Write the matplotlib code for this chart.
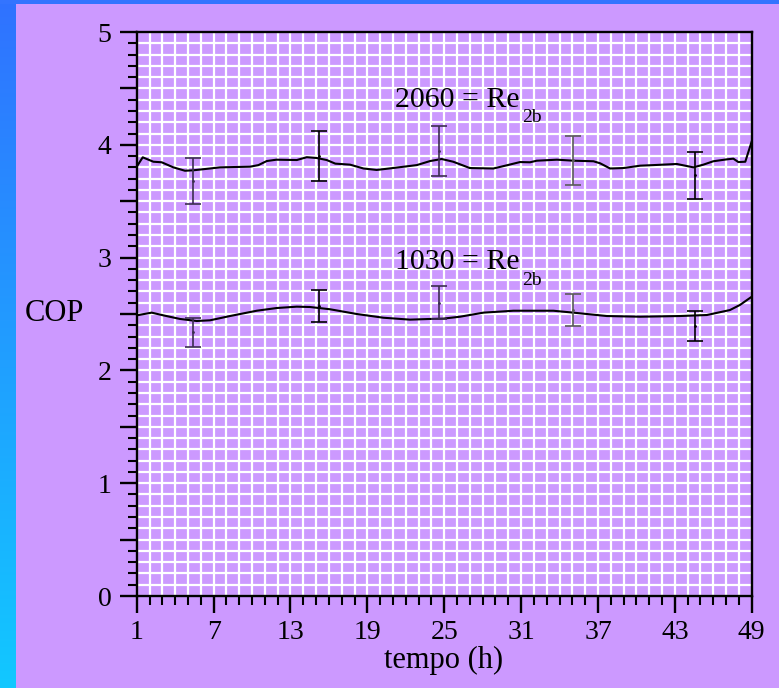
import numpy as np
import matplotlib
matplotlib.use("Agg")
import matplotlib.pyplot as plt
from matplotlib.ticker import MultipleLocator, FuncFormatter
from matplotlib.patches import Rectangle

plt.rcParams['font.family'] = ['Liberation Serif', 'DejaVu Serif']

# COP curves over time (h)
x_hi = [1, 1.47, 2.3, 2.95, 3.86, 4.77, 5.42, 6.72, 7.5, 9.85,
        10.5, 11.15, 11.9, 13.5, 14.27, 15.05, 15.83, 16.5, 17.65, 18.7,
        19.73, 21.0, 22.86, 23.9, 24.8, 25.7, 27.0, 28.84, 29.88, 30.92,
        31.7, 32.22, 33.8, 35.1, 36.65, 37.17, 37.95, 39.0, 40.3, 41.33,
        43.15, 44.45, 45.23, 46.0, 47.06, 47.57, 47.96, 48.5, 49]
y_hi = [3.806, 3.889, 3.85, 3.845, 3.80, 3.77, 3.774, 3.79, 3.80, 3.806,
        3.82, 3.856, 3.868, 3.865, 3.89, 3.883, 3.865, 3.833, 3.824, 3.79,
        3.777, 3.794, 3.82, 3.856, 3.874, 3.85, 3.794, 3.79, 3.818, 3.847,
        3.845, 3.859, 3.868, 3.859, 3.854, 3.836, 3.79, 3.794, 3.815, 3.82,
        3.83, 3.80, 3.824, 3.854, 3.871, 3.877, 3.847, 3.85, 4.03]

x_lo = [1, 2.17, 3.08, 4.38, 5.68, 6.72, 8.28, 10.37, 11.93, 13.49,
        14.53, 16.09, 18.17, 20.25, 22.33, 23.9, 24.93, 26.24, 28.06, 30.4,
        33.52, 35.08, 37.69, 40.29, 43.4, 45.5, 47.3, 48.08, 49]
y_lo = [2.488, 2.512, 2.488, 2.456, 2.438, 2.444, 2.482, 2.529, 2.553, 2.565,
        2.562, 2.542, 2.50, 2.467, 2.45, 2.456, 2.459, 2.476, 2.512, 2.529,
        2.529, 2.512, 2.482, 2.476, 2.482, 2.491, 2.535, 2.58, 2.653]

# measured points with error bars
err_x = [5.42, 15.23, 24.62, 35.03, 44.58]
hi_mean = [3.68, 3.90, 3.947, 3.862, 3.728]
hi_err = [0.207, 0.223, 0.224, 0.218, 0.211]
lo_mean = [2.337, 2.573, 2.60, 2.537, 2.395]
lo_err = [0.13, 0.144, 0.148, 0.143, 0.134]
bar_colors = ['#3b2d50', 'black', '#3b2d50', '#5a5a5a', 'black']

xticks = [1, 7, 13, 19, 25, 31, 37, 43, 49]

purple = '#cc99ff'

fig = plt.figure(figsize=(7.79, 6.88), dpi=100)
fig.patch.set_facecolor(purple)

# blue strips along the left and top edges
strip = fig.add_axes([0, 0, 15 / 779, 1])
grad = np.linspace(0, 1, 256).reshape(-1, 1)
top_c = np.array([0x30, 0x72, 0xff]) / 255
bot_c = np.array([0x12, 0xc8, 0xff]) / 255
img = top_c[None, None, :] * (1 - grad[..., None]) + bot_c[None, None, :] * grad[..., None]
strip.imshow(img, aspect='auto', extent=[0, 1, 0, 1])
strip.axis('off')
fig.patches.append(Rectangle((0, 1 - 4 / 688), 1, 4 / 688, transform=fig.transFigure,
                             facecolor='#3374ff', edgecolor='none', zorder=5))

ax = fig.add_axes([136.7 / 779, 92 / 688, 615 / 779, 564 / 688])
ax.set_facecolor(purple)

ax.plot(x_hi, y_hi, color='black', lw=1.5, zorder=3)
ax.plot(x_lo, y_lo, color='black', lw=1.5, zorder=3)

for i in range(len(err_x)):
    for m, e in ((hi_mean, hi_err), (lo_mean, lo_err)):
        ax.errorbar(err_x[i], m[i], yerr=e[i], fmt='.', ms=2, color=bar_colors[i],
                    ecolor=bar_colors[i], elinewidth=1.2, capsize=5.5, capthick=1.2, zorder=4)

ax.set_xlim(1, 49)
ax.set_ylim(0, 5)
ax.set_xticks(xticks)
ax.xaxis.set_minor_locator(MultipleLocator(1))
ax.yaxis.set_major_locator(MultipleLocator(0.5))
ax.yaxis.set_minor_locator(MultipleLocator(0.1))
ax.yaxis.set_major_formatter(FuncFormatter(lambda v, p: '%d' % v if abs(v - round(v)) < 1e-6 else ''))

ax.grid(True, which='both', color='white', lw=1.6, zorder=0)
ax.set_axisbelow(True)

for s in ax.spines.values():
    s.set_linewidth(1.7)
    s.set_color('black')

ax.tick_params(which='major', direction='out', length=12.2, width=1.7, labelsize=20,
               colors='black')
ax.tick_params(axis='x', which='major', pad=5)
ax.tick_params(axis='y', which='major', pad=6)
ax.tick_params(which='minor', direction='out', length=6.3, width=1.5, colors='black')

ax.set_xlabel('tempo (h)', fontsize=22)
ax.xaxis.label.set_va('baseline')
ax.xaxis.set_label_coords(0.499, -0.1277)
ax.set_ylabel('COP', fontsize=22, rotation=0, ha='left', va='baseline')
ax.yaxis.set_label_coords(-0.1816, 0.488)

# Reynolds number annotations
ax.text(21.15, 4.338, '2060 = Re', fontsize=21.5, va='baseline', ha='left', zorder=5)
ax.text(31.1, 4.205, '2b', fontsize=14, va='baseline', ha='left', zorder=5)
ax.text(21.15, 2.899, '1030 = Re', fontsize=21.5, va='baseline', ha='left', zorder=5)
ax.text(31.1, 2.757, '2b', fontsize=14, va='baseline', ha='left', zorder=5)

fig.savefig('out.png', dpi=100, facecolor=fig.get_facecolor())
